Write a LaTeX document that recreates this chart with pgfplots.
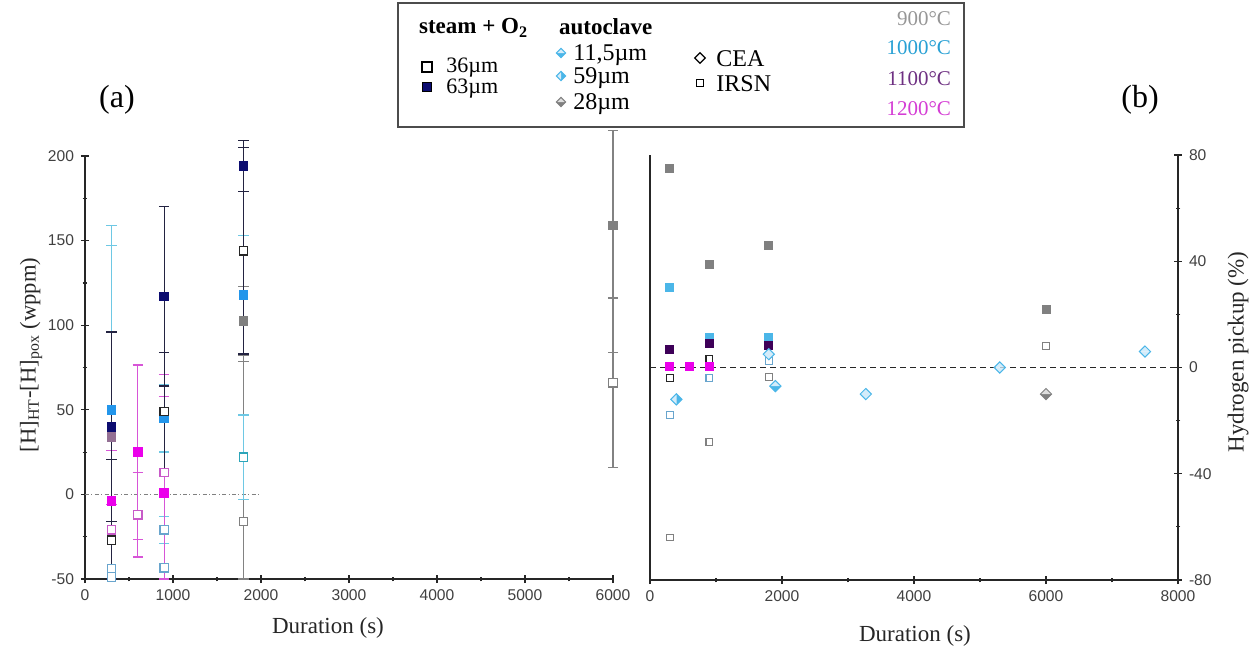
\documentclass[border=0pt]{standalone}
\usepackage{fontspec}
\setmainfont{Liberation Serif}
\newfontfamily\tickfont{Liberation Sans}
\usepackage{pgfplots}
\pgfplotsset{compat=1.18}

\definecolor{gry}{RGB}{128,128,128}
\definecolor{lb}{RGB}{35,150,235}
\definecolor{lbb}{RGB}{75,182,232}
\definecolor{nav}{RGB}{12,12,112}
\definecolor{dpur}{RGB}{62,0,88}
\definecolor{mag}{RGB}{235,0,235}
\definecolor{pnk}{RGB}{200,90,200}
\definecolor{lbo}{RGB}{105,165,205}
\definecolor{cyo}{RGB}{45,165,185}
\definecolor{cyb}{RGB}{110,200,228}
\definecolor{darkbar}{RGB}{35,35,65}
\definecolor{magbar}{RGB}{215,85,215}
\definecolor{gbar}{RGB}{130,130,130}
\definecolor{pg}{RGB}{148,112,148}
\definecolor{bpale}{RGB}{212,236,250}
\definecolor{gpale}{RGB}{222,222,222}
\definecolor{t900}{RGB}{150,150,150}
\definecolor{t1000}{RGB}{40,160,212}
\definecolor{t1100}{RGB}{110,48,130}
\definecolor{t1200}{RGB}{212,60,212}

% diamond, bottom half filled (pale top)
\pgfdeclareplotmark{dhbB}{%
  \pgfpathmoveto{\pgfqpoint{-\pgfplotmarksize}{0pt}}%
  \pgfpathlineto{\pgfqpoint{0pt}{-\pgfplotmarksize}}%
  \pgfpathlineto{\pgfqpoint{\pgfplotmarksize}{0pt}}%
  \pgfpathclose\pgfusepathqfill
  \pgfsetfillcolor{bpale}%
  \pgfpathmoveto{\pgfqpoint{-\pgfplotmarksize}{0pt}}%
  \pgfpathlineto{\pgfqpoint{0pt}{\pgfplotmarksize}}%
  \pgfpathlineto{\pgfqpoint{\pgfplotmarksize}{0pt}}%
  \pgfpathclose\pgfusepathqfill
  \pgfpathmoveto{\pgfqpoint{0pt}{\pgfplotmarksize}}%
  \pgfpathlineto{\pgfqpoint{\pgfplotmarksize}{0pt}}%
  \pgfpathlineto{\pgfqpoint{0pt}{-\pgfplotmarksize}}%
  \pgfpathlineto{\pgfqpoint{-\pgfplotmarksize}{0pt}}%
  \pgfpathclose\pgfusepathqstroke}
\pgfdeclareplotmark{dhbG}{%
  \pgfpathmoveto{\pgfqpoint{-\pgfplotmarksize}{0pt}}%
  \pgfpathlineto{\pgfqpoint{0pt}{-\pgfplotmarksize}}%
  \pgfpathlineto{\pgfqpoint{\pgfplotmarksize}{0pt}}%
  \pgfpathclose\pgfusepathqfill
  \pgfsetfillcolor{gpale}%
  \pgfpathmoveto{\pgfqpoint{-\pgfplotmarksize}{0pt}}%
  \pgfpathlineto{\pgfqpoint{0pt}{\pgfplotmarksize}}%
  \pgfpathlineto{\pgfqpoint{\pgfplotmarksize}{0pt}}%
  \pgfpathclose\pgfusepathqfill
  \pgfpathmoveto{\pgfqpoint{0pt}{\pgfplotmarksize}}%
  \pgfpathlineto{\pgfqpoint{\pgfplotmarksize}{0pt}}%
  \pgfpathlineto{\pgfqpoint{0pt}{-\pgfplotmarksize}}%
  \pgfpathlineto{\pgfqpoint{-\pgfplotmarksize}{0pt}}%
  \pgfpathclose\pgfusepathqstroke}
% diamond, right half filled
\pgfdeclareplotmark{dhrB}{%
  \pgfpathmoveto{\pgfqpoint{0pt}{\pgfplotmarksize}}%
  \pgfpathlineto{\pgfqpoint{\pgfplotmarksize}{0pt}}%
  \pgfpathlineto{\pgfqpoint{0pt}{-\pgfplotmarksize}}%
  \pgfpathclose\pgfusepathqfill
  \pgfsetfillcolor{bpale}%
  \pgfpathmoveto{\pgfqpoint{0pt}{\pgfplotmarksize}}%
  \pgfpathlineto{\pgfqpoint{-\pgfplotmarksize}{0pt}}%
  \pgfpathlineto{\pgfqpoint{0pt}{-\pgfplotmarksize}}%
  \pgfpathclose\pgfusepathqfill
  \pgfpathmoveto{\pgfqpoint{0pt}{\pgfplotmarksize}}%
  \pgfpathlineto{\pgfqpoint{\pgfplotmarksize}{0pt}}%
  \pgfpathlineto{\pgfqpoint{0pt}{-\pgfplotmarksize}}%
  \pgfpathlineto{\pgfqpoint{-\pgfplotmarksize}{0pt}}%
  \pgfpathclose\pgfusepathqstroke}
% outline diamond
\pgfdeclareplotmark{dout}{%
  \pgfpathmoveto{\pgfqpoint{0pt}{\pgfplotmarksize}}%
  \pgfpathlineto{\pgfqpoint{\pgfplotmarksize}{0pt}}%
  \pgfpathlineto{\pgfqpoint{0pt}{-\pgfplotmarksize}}%
  \pgfpathlineto{\pgfqpoint{-\pgfplotmarksize}{0pt}}%
  \pgfpathclose\pgfusepathqstroke}

\pgfplotsset{
  ebar/.style={/pgfplots/error bars/y dir=both, /pgfplots/error bars/y explicit,
    /pgfplots/error bars/error bar style={#1, line width=0.65pt, solid},
    /pgfplots/error bars/error mark options={#1, rotate=90, mark size=2.6pt, line width=0.65pt, solid}},
  fsq/.style={only marks, mark=square*, mark size=2.2pt, mark options={draw=#1, fill=#1, solid}},
  osq/.style={only marks, mark=square*, mark size=2.1pt, mark options={draw=#1, fill=white, line width=0.65pt, solid}},
  fsqb/.style={only marks, mark=square*, mark size=2.0pt, mark options={draw=#1, fill=#1, solid}},
  osqb/.style={only marks, mark=square*, mark size=1.7pt, mark options={draw=#1, fill=white, line width=0.55pt, solid}},
  myaxis/.style={scale only axis, anchor=south west, clip=false,
    tick align=outside, major tick length=4pt, minor tick length=2.4pt,
    every tick/.style={black!85, line width=0.6pt},
    tick label style={font=\tickfont\fontsize{7.8}{9}\selectfont, text=black!75},
    /pgf/number format/assume math mode=true,
    /pgf/number format/1000 sep={}},
  nolinearrows/.style={axis line style={-, line width=0.7pt, black!85},
    every inner x axis line/.append style={-}, every outer x axis line/.append style={-},
    every inner y axis line/.append style={-}, every outer y axis line/.append style={-}},
}

\begin{document}
\begin{tikzpicture}
\useasboundingbox (0,0) rectangle (629.5pt,325pt);

% ---------------- (a)
\begin{axis}[myaxis, at={(42.5pt,35.5pt)}, width=264pt, height=211.5pt,
  xmin=0, xmax=6000, ymin=-50, ymax=200,
  axis x line=bottom, axis y line=left, nolinearrows,
  xtick={0,1000,...,6000}, minor x tick num=1,
  ytick={-50,0,...,200}, minor y tick num=1]
\addplot[gray, line width=0.5pt, dash pattern=on 2pt off 1.2pt on 0.5pt off 1.2pt] coordinates {(0,0) (2000,0)};
% 900 C
\addplot[osq=gry, ebar=gbar] coordinates {(1800,-16) += (0,98) -= (0,34) (6000,66) += (0,50) -= (0,50)};
\addplot[fsq=gry, ebar=gbar] coordinates {(1800,102.7) += (0,20) -= (0,24) (6000,159) += (0,56) -= (0,75)};
% 1000 C
\addplot[osq=cyo, ebar=cyb] coordinates {(1800,22) += (0,25) -= (0,25)};
\addplot[osq=lbo, ebar=cyb] coordinates {(300,-44) += (0,191) -= (0,6) (900,-21) += (0,8) -= (0,8)};
\addplot[osq=lbo] coordinates {(300,-48.8) (900,-43.3)};
\addplot[fsq=lb, ebar=cyb] coordinates {(300,50) += (0,109) -= (0,100) (900,45) += (0,20) -= (0,20) (1800,118) += (0,35) -= (0,35)};
% 1200 C
\addplot[osq=pnk, ebar=magbar] coordinates {(300,-21) += (0,15) -= (0,29) (600,-12) += (0,25) -= (0,25) (900,13) += (0,58) -= (0,63)};
\addplot[fsq=mag, ebar=magbar] coordinates {(300,-4) += (0,30) -= (0,46) (600,25) += (0,51.5) -= (0,51.5) (900,1) += (0,57) -= (0,51)};
\addplot[fsq=pg] coordinates {(300,34)};
% steam + O2
\addplot[osq=black!85, ebar=darkbar] coordinates {(300,-27) += (0,47.5) -= (0,23) (900,49) += (0,35) -= (0,35) (1800,144) += (0,61) -= (0,61)};
\addplot[fsq=nav, ebar=darkbar] coordinates {(300,40) += (0,56) -= (0,56) (900,117) += (0,53) -= (0,53) (1800,194) += (0,15) -= (0,15)};
\end{axis}

% ---------------- (b)
\begin{axis}[myaxis, at={(325pt,35pt)}, width=264pt, height=212.5pt,
  xmin=0, xmax=8000, ymin=-80, ymax=80,
  axis x line=bottom, axis y line=right, nolinearrows,
  xtick={0,2000,...,8000}, minor x tick num=1,
  ytick={-80,-40,0,40,80}, minor y tick num=1]
\draw[black!85, line width=0.7pt] (rel axis cs:0,0) -- (rel axis cs:0,1);
\addplot[black!85, line width=0.6pt, dash pattern=on 3pt off 2pt] coordinates {(0,0) (8000,0)};
\addplot[osqb=gry] coordinates {(300,-64) (900,-28) (1800,-3.6) (6000,8)};
\addplot[osqb=black!85] coordinates {(300,-4) (900,3.3)};
\addplot[osqb=lbo] coordinates {(300,-18) (900,-4) (1800,2.4)};
\addplot[fsqb=gry] coordinates {(300,75) (900,39) (1800,46) (6000,22)};
\addplot[fsqb=lbb] coordinates {(300,30) (900,11.5) (1800,11.5)};
\addplot[fsqb=dpur] coordinates {(300,7) (900,9) (1800,8.5)};
\addplot[fsqb=mag] coordinates {(300,0.5) (600,0.5) (900,0.5)};
\addplot[only marks, mark=dhrB, mark size=2.8pt, mark options={draw=lbb, fill=lbb, line width=0.5pt}] coordinates {(400,-12) (1800,5)};
\addplot[only marks, mark=dhbB, mark size=2.8pt, mark options={draw=lbb, fill=lbb, line width=0.5pt}] coordinates {(1900,-7) (3270,-10) (5300,0) (7500,6)};
\addplot[only marks, mark=dhbG, mark size=2.8pt, mark options={draw=gry, fill=gry, line width=0.5pt}] coordinates {(6000,-10)};
\end{axis}

% ---------------- texts and key (pixel coordinates)
\begin{axis}[at={(0pt,0pt)}, anchor=south west, scale only axis, hide axis,
  width=629.5pt, height=325pt, xmin=0, xmax=1259, ymin=-650, ymax=0, clip=false]
\node[font=\fontsize{16}{18}\selectfont] at (axis cs:117,-100) {(a)};
\node[font=\fontsize{16}{18}\selectfont] at (axis cs:1140,-100) {(b)};
\node[font=\fontsize{11.5}{13}\selectfont, text=black!85] at (axis cs:328,-628) {Duration (s)};
\node[font=\fontsize{11.5}{13}\selectfont, text=black!85] at (axis cs:915,-636) {Duration (s)};
\node[font=\fontsize{11.3}{13}\selectfont, text=black!85, rotate=90] at (axis cs:31,-355) {[H]\textsubscript{HT}-[H]\textsubscript{pox} (wppm)};
\node[font=\fontsize{11.5}{13}\selectfont, text=black!85, rotate=90] at (axis cs:1238,-352) {Hydrogen pickup (\%)};
% key box
\draw[black!70, line width=1pt] (axis cs:398,-3) rectangle (axis cs:964,-127);
\node[anchor=west, font=\bfseries\fontsize{11.5}{13}\selectfont] at (axis cs:412,-28) {steam + O\textsubscript{2}};
\node[anchor=west, font=\bfseries\fontsize{11.5}{13}\selectfont] at (axis cs:552,-27) {autoclave};
\addplot[only marks, mark=square, mark size=2.3pt, mark options={draw=black, line width=1pt}] coordinates {(427,-67)};
\addplot[only marks, mark=square*, mark size=2.3pt, mark options={draw=black, fill=nav, line width=0.8pt}] coordinates {(427,-87)};
\node[anchor=west, inner sep=0pt, font=\fontsize{11}{13}\selectfont] at (axis cs:446,-68) {36µm};
\node[anchor=west, inner sep=0pt, font=\fontsize{11}{13}\selectfont] at (axis cs:446,-89) {63µm};
\addplot[only marks, mark=dhbB, mark size=2.3pt, mark options={draw=lbb, fill=lbb, line width=0.5pt}] coordinates {(561,-53)};
\addplot[only marks, mark=dhrB, mark size=2.3pt, mark options={draw=lbb, fill=lbb, line width=0.5pt}] coordinates {(561,-76)};
\addplot[only marks, mark=dhbG, mark size=2.3pt, mark options={draw=gry, fill=gry, line width=0.5pt}] coordinates {(561,-102)};
\node[anchor=west, inner sep=0pt, font=\fontsize{12}{14}\selectfont] at (axis cs:573,-55) {11,5µm};
\node[anchor=west, inner sep=0pt, font=\fontsize{12}{14}\selectfont] at (axis cs:573,-78) {59µm};
\node[anchor=west, inner sep=0pt, font=\fontsize{12}{14}\selectfont] at (axis cs:573,-104) {28µm};
\addplot[only marks, mark=dout, mark size=2.6pt, mark options={draw=black, line width=0.6pt}] coordinates {(700,-58)};
\addplot[only marks, mark=square, mark size=1.8pt, mark options={draw=black, line width=0.6pt}] coordinates {(700,-83)};
\node[anchor=west, inner sep=0pt, font=\fontsize{12}{14}\selectfont] at (axis cs:716,-59) {CEA};
\node[anchor=west, inner sep=0pt, font=\fontsize{12}{14}\selectfont] at (axis cs:716,-84) {IRSN};
\node[anchor=east, font=\fontsize{10.5}{12}\selectfont, text=t900] at (axis cs:958,-19) {900°C};
\node[anchor=east, font=\fontsize{10.5}{12}\selectfont, text=t1000] at (axis cs:958,-48) {1000°C};
\node[anchor=east, font=\fontsize{10.5}{12}\selectfont, text=t1100] at (axis cs:958,-79) {1100°C};
\node[anchor=east, font=\fontsize{10.5}{12}\selectfont, text=t1200] at (axis cs:958,-109) {1200°C};
\end{axis}
\end{tikzpicture}
\end{document}
